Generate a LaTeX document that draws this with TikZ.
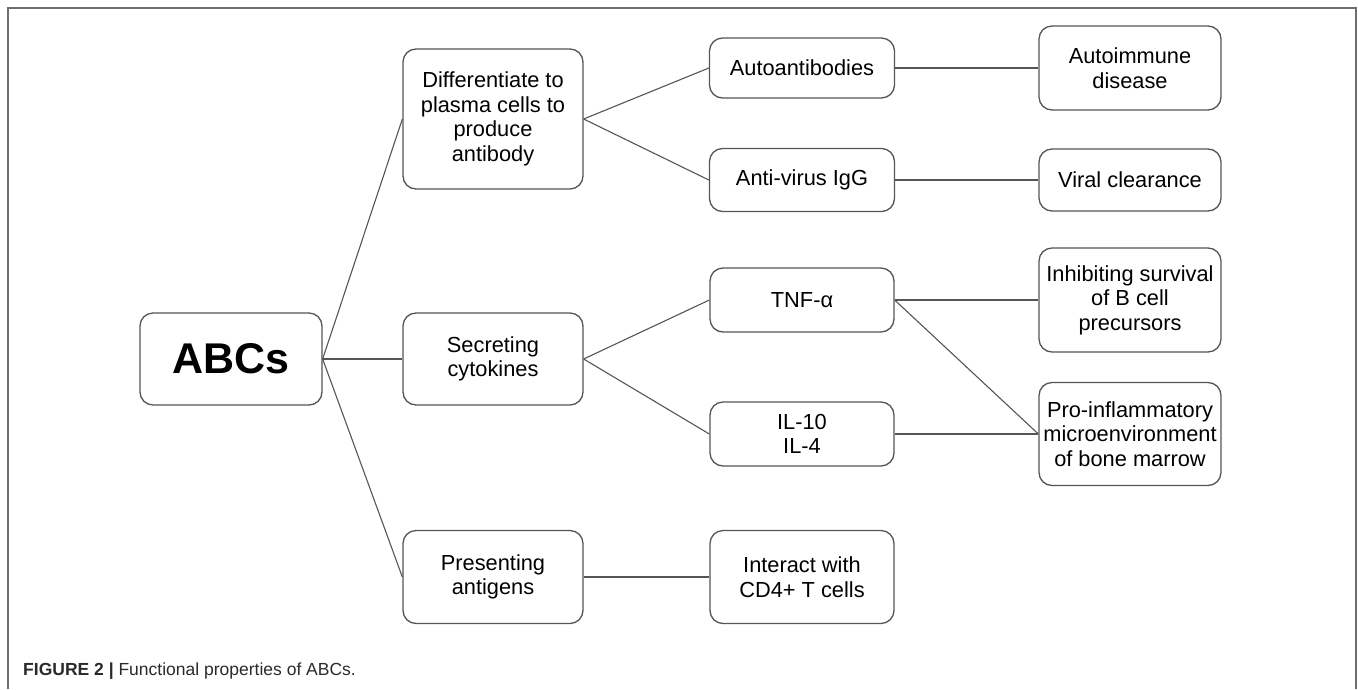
\documentclass[tikz,border=0pt]{standalone}
\usepackage{fontspec}
\setmainfont{Liberation Sans}
\definecolor{boxline}{HTML}{555555}
\definecolor{frameline}{HTML}{6E6E6E}
\definecolor{captext}{HTML}{2A2A2A}
\begin{document}
\begin{tikzpicture}[x=1pt,y=-1pt,
  box/.style={draw=boxline, line width=1.3pt, rounded corners=13pt, align=center,
    inner sep=0pt, font=\fontsize{21.8}{24.5}\selectfont, text=black},
  link/.style={draw=boxline, line width=1.1pt}]
\useasboundingbox (0,0) rectangle (1358,689);
\draw[frameline, line width=1.8pt] (8,689) -- (8,8) -- (1356,8) -- (1356,689);

\node[box, minimum width=182pt, minimum height=92pt, font=\fontsize{43}{46}\selectfont\bfseries] (abc) at (231,359) {ABCs};

\node[box, minimum width=180pt, minimum height=140pt] (dif) at (493,119) {Differentiate to\\plasma cells to\\produce\\antibody};
\node[box, minimum width=180pt, minimum height=92pt] (sec) at (493,359) {Secreting\\cytokines};
\node[box, minimum width=180pt, minimum height=93pt] (pre) at (493,577) {Presenting\\antigens};

\node[box, minimum width=185pt, minimum height=60pt] (aut) at (802,68) {Autoantibodies};
\node[box, minimum width=185pt, minimum height=63pt] (ant) at (802,180) {Anti-virus IgG};
\node[box, minimum width=184pt, minimum height=64pt] (tnf) at (802,300) {TNF-α};
\node[box, minimum width=184pt, minimum height=64pt] (il) at (802,434) {IL-10\\IL-4};
\node[box, minimum width=184pt, minimum height=93pt] (int) at (802,577) {Interact with\\CD4+ T cells};

\node[box, minimum width=182pt, minimum height=84pt] (aid) at (1130,68) {Autoimmune\\disease};
\node[box, minimum width=182pt, minimum height=62pt] (vir) at (1130,180) {Viral clearance};
\node[box, minimum width=182pt, minimum height=104pt] (inh) at (1130,300) {Inhibiting survival\\of B cell\\precursors};
\node[box, minimum width=182pt, minimum height=103pt] (pro) at (1130,434) {Pro-inflammatory\\microenvironment\\of bone marrow};

\draw[link] (abc.east) -- (dif.west);
\draw[link] (abc.east) -- (sec.west);
\draw[link] (abc.east) -- (pre.west);
\draw[link] (dif.east) -- (aut.west);
\draw[link] (dif.east) -- (ant.west);
\draw[link] (aut.east) -- (aid.west);
\draw[link] (ant.east) -- (vir.west);
\draw[link] (sec.east) -- (tnf.west);
\draw[link] (sec.east) -- (il.west);
\draw[link] (tnf.east) -- (inh.west);
\draw[link] (tnf.east) -- (pro.west);
\draw[link] (il.east) -- (pro.west);
\draw[link] (pre.east) -- (int.west);

\node[anchor=base west, inner sep=0pt, text=captext, font=\fontsize{17.5}{20}\selectfont] (cap) at (23,675)
  {\textbf{FIGURE 2 |} Functional properties of ABCs.};
\end{tikzpicture}
\end{document}
